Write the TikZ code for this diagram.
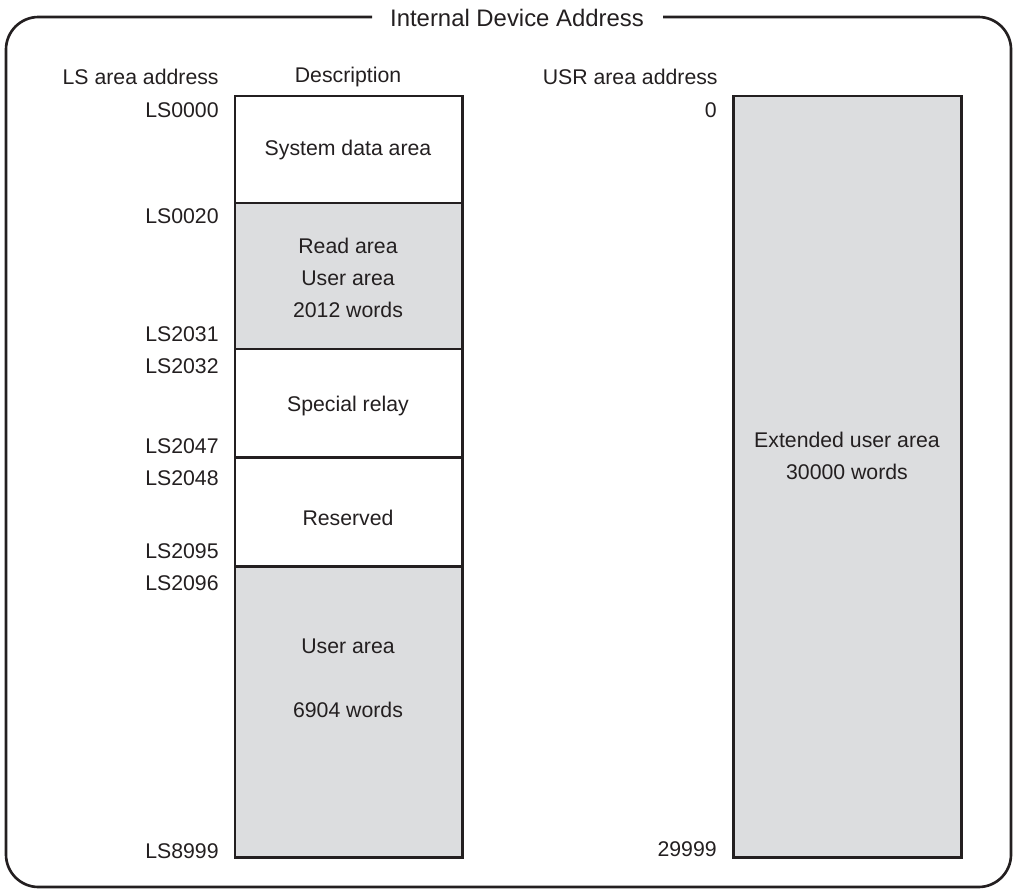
\documentclass[tikz,border=0pt]{standalone}
\usepackage{fontspec}
\setmainfont{Liberation Sans}
\definecolor{ink}{HTML}{231F20}
\definecolor{cellgray}{HTML}{DCDDDF}
\begin{document}
\begin{tikzpicture}[x=0.02cm, y=-0.02cm, font=\fontsize{12.1}{18.1}\selectfont, text=ink]
    \tikzset{cell/.style={draw=ink, line width=1.7pt},
             addr/.style={anchor=east, inner sep=0pt},
             lbl/.style={inner sep=0pt, align=center}}
  % parameters (pixels of the original)
  \def\Lx{235}  \def\Rx{462}   % LS column
  \def\Ux{733}  \def\Vx{961}   % USR column
  \def\Top{96}  \def\Bot{857}

  \useasboundingbox (0,0) rectangle (1013,889);

  % outer frame, left open for the title
  \draw[ink, line width=1.5pt, rounded corners=0.65cm]
    (372,17) -- (6,17) -- (6,887) -- (1011,887) -- (1011,17) -- (663,17);
  \node[lbl, font=\fontsize{13.6}{16}\selectfont] (title) at (517,18) {Internal Device Address};

  % LS area cells
  \foreach \t/\b/\c in {96/203/white, 203/349/cellgray, 349/457/white,
                        457/566/white, 566/857/cellgray} {
    \draw[cell, fill=\c] (\Lx,\t) rectangle (\Rx,\b);
  }

  % USR area
  \draw[cell, fill=cellgray] (\Ux,\Top) rectangle (\Vx,\Bot);

  % headings
  \node[addr] (lshead)  at (219,77) {LS area address};
  \node[lbl]  (deshead) at (348,77) {Description};
  \node[addr] (usrhead) at (718,77) {USR area address};

  % addresses
  \foreach \y/\s in {110/LS0000, 216/LS0020, 334/LS2031, 366/LS2032, 446/LS2047,
                     478/LS2048, 551/LS2095, 583/LS2096, 851/LS8999} {
    \node[addr] (a\s) at (219,\y) {\s};
  }
  \node[addr] (u0)     at (717,110) {0};
  \node[addr] (u29999) at (717,849) {29999};

  % descriptions
  \node[lbl] (sysdata) at (348,150) {System data area};
  \node[lbl] (readar)  at (348,278) {Read area\\User area\\2012 words};
  \node[lbl] (special) at (348,406) {Special relay};
  \node[lbl] (resvd)   at (348,518) {Reserved};
  \node[lbl] (userar)  at (348,646) {User area};
  \node[lbl] (userwd)  at (348,710) {6904 words};
  \node[lbl] (extar)   at (847,456) {Extended user area\\30000 words};
\end{tikzpicture}
\end{document}
